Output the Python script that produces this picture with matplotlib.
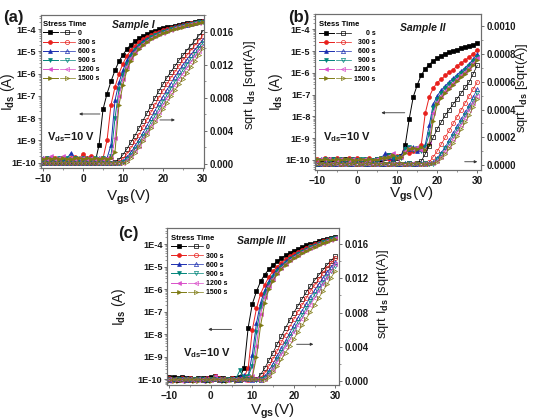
import numpy as np
import matplotlib

matplotlib.use("Agg")
import matplotlib.pyplot as plt
from matplotlib.lines import Line2D
from matplotlib.legend_handler import HandlerTuple
from matplotlib.ticker import FixedLocator, FuncFormatter, MultipleLocator, LogLocator, NullFormatter

plt.rcParams["font.family"] = ["Liberation Sans", "DejaVu Sans"]
plt.rcParams["font.weight"] = "bold"
plt.rcParams["mathtext.fontset"] = "custom"
plt.rcParams["mathtext.bf"] = "Liberation Sans:bold"
plt.rcParams["mathtext.rm"] = "Liberation Sans:bold"
plt.rcParams["mathtext.default"] = "bf"

# gate sweep, 1 V steps
VGS = np.arange(-10, 31)

COLORS = ["#000000", "#e8201c", "#1c2fb0", "#00857a", "#d94fc9", "#7d7a12"]
MARKERS = ["s", "o", "^", "v", "<", ">"]
LABELS_AC = ["0", "300 s", "600 s", "900 s", "1200 s", "1500 s"]
# panel (b) labels are right-aligned: two spaces take the width of one digit
LABELS_B = ["      0 s", "  300 s", "  600 s", "  900 s", "1200 s", "1500 s"]

# ---- Sample I : log10(Ids / A) ----
LOG_A_0 = [-10.0, -10.02, -9.96, -10.0, -10.03, -9.98, -10.0, -9.97, -10.02, -10.0, -9.96, -10.0, -10.02, -10.0,
           -9.2, -7.6, -6.9, -6.35, -5.85, -5.45, -5.15, -4.9, -4.7, -4.55, -4.42, -4.32, -4.23, -4.15, -4.08,
           -4.02, -3.97, -3.93, -3.89, -3.85, -3.81, -3.78, -3.75, -3.72, -3.69, -3.66, -3.63]
LOG_A_300 = [-9.82, -9.8, -9.85, -9.78, -9.84, -9.8, -9.86, -9.8, -9.75, -9.82, -9.6, -9.8, -9.7, -9.84, -9.82, -9.8,
             -9.0, -7.4, -6.6, -6.0, -5.55, -5.2, -4.95, -4.75, -4.6, -4.47, -4.36, -4.27, -4.19, -4.12, -4.06,
             -4.0, -3.95, -3.9, -3.86, -3.82, -3.78, -3.75, -3.71, -3.68, -3.65]
LOG_A_600 = [-9.8, -9.84, -9.78, -9.82, -9.8, -9.85, -9.8, -9.55, -9.82, -9.8, -9.84, -9.8, -9.78, -9.82, -9.8, -9.84, -9.8,
             -9.2, -7.2, -6.4, -5.85, -5.4, -5.1, -4.88, -4.7, -4.56, -4.44, -4.34, -4.25, -4.17, -4.1, -4.04,
             -3.98, -3.93, -3.88, -3.84, -3.8, -3.76, -3.72, -3.69, -3.66]
LOG_A_900 = [-9.85, -9.8, -9.82, -9.86, -9.8, -9.84, -9.8, -9.82, -9.78, -9.84, -9.8, -9.82, -9.85, -9.8, -9.83, -9.8, -9.84, -9.7,
             -8.0, -6.7, -6.05, -5.55, -5.2, -4.95, -4.76, -4.61, -4.49, -4.38, -4.29, -4.21, -4.14, -4.07, -4.01,
             -3.96, -3.91, -3.86, -3.82, -3.78, -3.74, -3.7, -3.67]
LOG_A_1200 = [-9.8, -9.84, -9.7, -9.82, -9.8, -9.72, -9.84, -9.8, -9.82, -9.78, -9.8, -9.84, -9.8, -9.82, -9.8, -9.84, -9.8, -9.8,
              -8.9, -7.0, -6.25, -5.7, -5.3, -5.03, -4.82, -4.66, -4.53, -4.42, -4.32, -4.24, -4.16, -4.09, -4.03,
              -3.97, -3.92, -3.87, -3.83, -3.79, -3.75, -3.71, -3.68]
LOG_A_1500 = [-9.84, -9.8, -9.82, -9.8, -9.85, -9.8, -9.82, -9.84, -9.8, -9.78, -9.82, -9.8, -9.84, -9.8, -9.82, -9.8, -9.84, -9.8, -9.5,
              -7.4, -6.5, -5.85, -5.42, -5.12, -4.9, -4.72, -4.58, -4.46, -4.36, -4.27, -4.19, -4.12, -4.05, -3.99,
              -3.94, -3.89, -3.84, -3.8, -3.76, -3.72, -3.69]

# ---- Sample I : sqrt(Ids), units of 1e-4 A^0.5 ----
SQRT_A_0 = [1, 1.2, 0.8, 1, 1.1, 0.9, 1, 1.2, 1, 0.8, 1, 1.1, 1, 0.9, 1, 1.2, 1, 1,
            2, 5, 11, 18, 26, 34, 43, 52, 61, 70, 79, 88, 96, 104, 111, 118, 125, 131, 137, 143, 149, 155, 160]
SQRT_A_300 = [1.1, 0.9, 1, 1.2, 1, 0.8, 1, 1.1, 0.9, 1, 1.2, 1, 0.9, 1, 1.1, 1, 0.8, 1, 1.1,
              2, 6, 12, 19, 27, 35, 44, 53, 62, 71, 80, 88, 96, 104, 111, 118, 125, 131, 137, 143, 149, 155]
SQRT_A_600 = [0.9, 1, 1.1, 1, 0.8, 1, 1.2, 1, 0.9, 1, 1.1, 1, 0.9, 1, 1.2, 1, 0.9, 1, 1.1, 1.2,
              3, 8, 14, 21, 29, 37, 46, 55, 64, 73, 81, 89, 97, 105, 112, 119, 126, 132, 138, 144, 150]
SQRT_A_900 = [1, 0.9, 1.1, 1, 1.2, 0.9, 1, 1, 1.1, 0.8, 1, 1.1, 1, 0.9, 1, 1.1, 1, 0.9, 1, 1.1,
              2, 6, 11, 18, 25, 33, 41, 50, 58, 67, 75, 83, 91, 99, 106, 113, 120, 127, 133, 140, 146]
SQRT_A_1200 = [1.1, 1, 0.9, 1, 1.2, 1, 0.9, 1.1, 1, 1, 0.8, 1, 1.1, 1, 0.9, 1, 1.2, 1, 0.9, 1, 1.1,
               4, 9, 15, 22, 30, 38, 46, 54, 63, 71, 79, 87, 95, 102, 109, 116, 123, 130, 137, 143]
SQRT_A_1500 = [0.9, 1.1, 1, 0.8, 1, 1.1, 1, 1.2, 0.9, 1, 1, 1.1, 0.9, 1, 1.2, 1, 0.9, 1.1, 1, 1, 1.1,
               2, 7, 13, 20, 27, 35, 43, 50, 58, 66, 74, 82, 89, 96, 103, 110, 117, 124, 132, 140]

# ---- Sample II : log10(Ids / A) ----
LOG_B_0 = [-10.0, -10.05, -9.98, -10.02, -9.95, -10.0, -10.03, -9.97, -10.0, -9.95, -10.02, -10.0, -9.98, -10.0,
           -10.03, -9.96, -10.0, -9.9, -9.75, -9.95, -9.9, -9.8,
           -9.3, -8.1, -7.1, -6.55, -6.1, -5.82, -5.62, -5.45, -5.33, -5.22, -5.13, -5.05, -4.98, -4.93, -4.88,
           -4.83, -4.77, -4.71, -4.65]
LOG_B_300 = [-9.95, -10.0, -9.9, -9.95, -10.0, -9.92, -9.95, -10.0, -9.9, -9.95, -9.92, -10.0, -9.95, -9.9, -10.0,
             -9.95, -9.9, -9.85, -9.95, -9.9, -9.8, -9.85, -9.5, -9.7, -9.6, -9.55,
             -9.3, -7.85, -7.1, -6.7, -6.45, -6.3, -6.12, -5.98, -5.85, -5.68, -5.55, -5.42, -5.28, -5.12, -4.95]
LOG_B_600 = [-10.0, -9.95, -10.02, -9.97, -10.0, -9.95, -10.03, -10.0, -9.96, -10.0, -9.98, -9.95, -10.0, -9.97,
             -10.02, -9.95, -9.9, -9.7, -9.85, -9.9, -9.85, -9.8, -9.45, -9.5, -9.4, -9.6, -9.5,
             -9.3, -8.4, -7.45, -7.05, -6.8, -6.6, -6.42, -6.25, -6.08, -5.92, -5.76, -5.58, -5.38, -5.15]
LOG_B_900 = [-9.98, -10.0, -9.95, -10.02, -9.97, -10.0, -9.95, -9.98, -10.02, -9.95, -10.0, -9.97, -9.95, -10.0,
             -9.98, -9.95, -9.92, -9.9, -9.75, -9.9, -9.85, -9.9, -9.5, -9.4, -9.55, -9.45, -9.6,
             -9.4, -8.8, -7.6, -7.2, -6.92, -6.7, -6.52, -6.35, -6.18, -6.02, -5.85, -5.67, -5.47, -5.25]
LOG_B_1200 = [-10.0, -9.97, -10.02, -9.95, -10.0, -9.98, -9.95, -10.02, -10.0, -9.96, -9.98, -10.0, -9.95, -9.98,
              -10.0, -9.95, -9.9, -9.92, -9.8, -9.7, -9.9, -9.85, -9.6, -9.45, -9.5, -9.4, -9.55, -9.5,
              -9.2, -7.85, -7.35, -7.05, -6.82, -6.63, -6.45, -6.28, -6.11, -5.94, -5.76, -5.56, -5.33]
LOG_B_1500 = [-9.97, -10.0, -9.95, -10.0, -10.02, -9.96, -10.0, -9.97, -9.95, -10.0, -10.02, -9.97, -10.0, -9.95,
              -9.98, -10.0, -9.92, -9.9, -9.85, -9.75, -9.9, -9.85, -9.7, -9.5, -9.45, -9.5, -9.4, -9.55,
              -9.3, -8.2, -7.45, -7.15, -6.92, -6.72, -6.54, -6.37, -6.2, -6.03, -5.85, -5.65, -5.42]

# ---- Sample II : sqrt(Ids), units of 1e-5 A^0.5 ----
SQRT_B_0 = [1, 1.5, 0.5, 1, 1.2, 0.8, 1, 1.5, 1, 0.5, 1, 1.2, 1, 0.8, 1, 1.5, 1, 0.5, 1, 1.2, 1, 0.8, 1, 1.5, 1, 1.5,
            3, 8, 14, 20, 26, 31, 36, 40, 44, 48, 52, 56, 60, 66, 72]
SQRT_B_300 = [1.2, 0.8, 1, 1.5, 1, 0.5, 1, 1.2, 1, 0.8, 1, 1.5, 1, 0.5, 1, 1.2, 1, 0.8, 1, 1.5, 1, 0.5, 1, 1.2,
              1, 0.8, 1, 1.5,
              2, 6, 10, 15, 20, 25, 30, 35, 40, 45, 50, 55, 60]
SQRT_B_600 = [0.8, 1, 1.2, 1, 0.5, 1, 1.5, 1, 0.8, 1, 1.2, 1, 0.5, 1, 1.5, 1, 0.8, 1, 1.2, 1, 0.5, 1, 1.5, 1, 0.8,
              1, 1.2, 1, 1.5,
              2, 5, 9, 13, 18, 23, 28, 33, 38, 43, 49, 55]
SQRT_B_900 = [1, 0.5, 1, 1.2, 1, 0.8, 1, 1.5, 1, 0.5, 1, 1.2, 1, 0.8, 1, 1.5, 1, 0.5, 1, 1.2, 1, 0.8, 1, 1.5, 1,
              0.5, 1, 1.2, 1,
              1, 4, 8, 12, 16, 21, 26, 31, 36, 41, 46, 52]
SQRT_B_1200 = [1.5, 1, 0.8, 1, 1.2, 1, 0.5, 1, 1.5, 1, 0.8, 1, 1.2, 1, 0.5, 1, 1.5, 1, 0.8, 1, 1.2, 1, 0.5, 1, 1.5,
               1, 0.8, 1, 1.2, 1.5,
               3, 6, 10, 14, 19, 24, 29, 34, 40, 45, 50]
SQRT_B_1500 = [1, 1.2, 1, 0.5, 1, 1.5, 1, 0.8, 1, 1.2, 1, 0.5, 1, 1.5, 1, 0.8, 1, 1.2, 1, 0.5, 1, 1.5, 1, 0.8, 1,
               1.2, 1, 0.5, 1, 1.2,
               2, 5, 8, 12, 16, 21, 26, 31, 36, 42, 48]

# ---- Sample III : log10(Ids / A) ----
LOG_C_0 = [-9.9, -9.88, -9.92, -9.9, -9.95, -9.92, -9.97, -9.93, -9.95, -9.92, -9.9, -9.85, -9.93, -9.95, -9.98,
           -9.95, -9.93, -9.9,
           -9.5, -7.7, -6.65, -6.1, -5.65, -5.35, -5.12, -4.92, -4.77, -4.63, -4.5, -4.4, -4.3, -4.21, -4.13,
           -4.05, -3.99, -3.93, -3.87, -3.82, -3.77, -3.72, -3.68]
LOG_C_300 = [-9.95, -9.98, -10.0, -9.96, -10.02, -9.95, -9.98, -10.0, -9.97, -9.95, -9.98, -9.85, -9.95, -10.0,
             -9.97, -9.95, -9.98, -10.0, -9.9,
             -9.5, -7.8, -6.85, -6.2, -5.8, -5.45, -5.2, -5.0, -4.83, -4.68, -4.55, -4.44, -4.34, -4.25, -4.16,
             -4.08, -4.01, -3.94, -3.88, -3.82, -3.77, -3.72]
LOG_C_600 = [-10.0, -9.97, -10.02, -9.98, -9.95, -10.0, -10.03, -9.97, -10.0, -9.95, -10.0, -9.88, -9.98, -10.02,
             -9.97, -10.0, -9.95, -9.9, -9.8, -9.85,
             -8.9, -7.5, -6.6, -6.05, -5.65, -5.35, -5.12, -4.93, -4.77, -4.63, -4.51, -4.4, -4.3, -4.21, -4.12,
             -4.04, -3.97, -3.9, -3.84, -3.78, -3.73]
LOG_C_900 = [-10.02, -10.0, -9.97, -10.03, -10.0, -9.98, -10.02, -10.0, -9.97, -10.03, -10.0, -9.9, -10.0, -9.97,
             -10.02, -10.0, -9.98, -9.6, -9.9, -9.85,
             -9.4, -7.9, -6.8, -6.2, -5.78, -5.46, -5.2, -5.0, -4.83, -4.68, -4.56, -4.44, -4.34, -4.24, -4.15,
             -4.07, -3.99, -3.92, -3.85, -3.79, -3.74]
LOG_C_1200 = [-10.05, -10.02, -10.0, -10.05, -10.03, -10.0, -10.04, -10.02, -10.05, -10.0, -10.03, -9.85, -10.0,
              -10.04, -10.02, -10.0, -10.03, -9.98, -9.95, -9.9, -9.85,
              -8.5, -7.1, -6.35, -5.88, -5.53, -5.26, -5.05, -4.87, -4.72, -4.59, -4.47, -4.37, -4.27, -4.18,
              -4.09, -4.01, -3.94, -3.87, -3.81, -3.75]
LOG_C_1500 = [-10.08, -10.05, -10.07, -10.03, -10.06, -10.04, -10.08, -10.05, -10.03, -10.06, -10.05, -9.95,
              -10.04, -10.07, -10.05, -10.03, -10.05, -10.0, -9.98, -9.92, -9.9,
              -9.0, -7.6, -6.6, -6.0, -5.62, -5.33, -5.1, -4.92, -4.76, -4.63, -4.51, -4.4, -4.3, -4.2, -4.11,
              -4.03, -3.96, -3.89, -3.83, -3.77]

# ---- Sample III : sqrt(Ids), units of 1e-4 A^0.5 ----
SQRT_C_0 = [1.5, 1.7, 1.3, 1.5, 1.6, 1.4, 1.5, 1.7, 1.5, 1.3, 1.5, 1.6, 1.5, 1.4, 1.5, 1.7, 1.5, 1.3, 1.5, 1.6, 1.5,
            2, 7, 15, 24, 33, 43, 52, 62, 71, 80, 88, 96, 104, 111, 118, 124, 130, 136, 141, 146]
SQRT_C_300 = [1.6, 1.4, 1.5, 1.7, 1.5, 1.3, 1.5, 1.6, 1.4, 1.5, 1.7, 1.5, 1.4, 1.5, 1.6, 1.5, 1.3, 1.5, 1.6, 1.4,
              1.5, 1.6,
              3, 9, 17, 26, 35, 45, 54, 63, 72, 81, 89, 97, 105, 112, 119, 126, 132, 138, 144]
SQRT_C_600 = [1.4, 1.5, 1.6, 1.5, 1.3, 1.5, 1.7, 1.5, 1.4, 1.5, 1.6, 1.5, 1.4, 1.5, 1.7, 1.5, 1.4, 1.5, 1.6, 1.5,
              1.4, 1.5,
              1, 5, 12, 20, 29, 38, 47, 56, 65, 74, 82, 90, 98, 106, 113, 120, 127, 133, 139]
SQRT_C_900 = [1.5, 1.4, 1.6, 1.5, 1.7, 1.4, 1.5, 1.5, 1.6, 1.3, 1.5, 1.6, 1.5, 1.4, 1.5, 1.6, 1.5, 1.4, 1.5, 1.6,
              1.5, 1.4, 1.5,
              3, 9, 16, 25, 34, 43, 52, 60, 69, 77, 85, 93, 101, 108, 115, 122, 129, 135]
SQRT_C_1200 = [1.6, 1.5, 1.4, 1.5, 1.7, 1.5, 1.4, 1.6, 1.5, 1.5, 1.3, 1.5, 1.6, 1.5, 1.4, 1.5, 1.7, 1.5, 1.4, 1.5,
               1.6, 1.5, 1.4,
               2, 7, 14, 22, 31, 40, 48, 57, 65, 73, 81, 89, 97, 105, 113, 121, 129, 137]
SQRT_C_1500 = [1.4, 1.6, 1.5, 1.3, 1.5, 1.6, 1.5, 1.7, 1.4, 1.5, 1.5, 1.6, 1.4, 1.5, 1.7, 1.5, 1.4, 1.6, 1.5, 1.5,
               1.6, 1.5, 1.4,
               1, 4, 10, 17, 25, 33, 41, 49, 57, 65, 73, 81, 89, 97, 105, 113, 121, 129]

TXT = "#1a1a1a"
SPINE = "#6e6e6e"
TICK_FS = 6.9


def draw_panel(fig, rect, logs, sqrts, sq_unit, labels, legend_title, legend_xy, xlim, ylim_log, ylim_sq,
               sq_step, sq_fmt, sample, sample_xy, vds_xy, larrow, rarrow,
               ylab_x, ylab2_xy, xlab_xy):
    ax = fig.add_axes(rect)
    ax2 = ax.twinx()
    for lg, sq, c, m in zip(logs, sqrts, COLORS, MARKERS):
        ax.plot(VGS, 10.0 ** np.array(lg), color=c, marker=m, ms=2.8, lw=0.7,
                mec=c, mfc=c, mew=0.5)
        ax2.plot(VGS, np.array(sq) * sq_unit, color=c, marker=m, ms=3.0, lw=0.5,
                 mec=c, mfc="none", mew=0.5)

    ax.set_yscale("log")
    ax.set_xlim(*xlim)
    ax.set_ylim(*ylim_log)
    ax2.set_ylim(*ylim_sq)

    ax.yaxis.set_major_locator(FixedLocator([10.0 ** k for k in range(-10, -3)]))
    ax.yaxis.set_major_formatter(FuncFormatter(lambda v, p: f"1E{int(round(np.log10(v)))}"))
    ax.yaxis.set_minor_locator(LogLocator(base=10, subs=np.arange(2, 10), numticks=20))
    ax.yaxis.set_minor_formatter(NullFormatter())
    ax.xaxis.set_major_locator(FixedLocator([-10, 0, 10, 20, 30]))
    ax.xaxis.set_minor_locator(MultipleLocator(5))
    ax2.yaxis.set_major_locator(MultipleLocator(sq_step))
    ax2.yaxis.set_minor_locator(MultipleLocator(sq_step / 2))
    ax2.yaxis.set_major_formatter(FuncFormatter(lambda v, p: sq_fmt.format(abs(v) if abs(v) < 1e-12 else v)))

    for a in (ax, ax2):
        a.tick_params(which="major", direction="out", length=2.5, width=0.7, color=SPINE,
                      labelsize=TICK_FS, labelcolor=TXT, pad=1.5)
        a.tick_params(which="minor", direction="out", length=1.2, width=0.5, color=SPINE)
        for s in a.spines.values():
            s.set_color(SPINE)
            s.set_linewidth(0.8)
    ax.tick_params(axis="y", labelsize=6.6, pad=1.0)
    ax.tick_params(axis="x", pad=2, labelsize=7.3)

    ax.set_ylabel("I$_{ds}$ (A)", fontsize=9.8, color=TXT)
    ax.yaxis.set_label_coords(ylab_x, 0.5)
    ax2.set_ylabel("sqrt I$_{ds}$ [sqrt(A)]", fontsize=9.3, color=TXT)
    ax2.yaxis.set_label_coords(*ylab2_xy)
    ax.set_xlabel("V$_{gs}$(V)", fontsize=11, color=TXT)
    ax.xaxis.set_label_coords(*xlab_xy)

    ax.text(sample_xy[0], sample_xy[1], sample, transform=ax.transAxes, fontsize=7.5,
            style="italic", color=TXT, ha="left", va="center")
    ax.text(vds_xy[0], vds_xy[1], "V$_{ds}$=10 V", transform=ax.transAxes, fontsize=8,
            color=TXT, ha="left", va="center")
    for (x0, x1, y) in (larrow, rarrow):
        ax.annotate("", xy=(x1, y), xytext=(x0, y), xycoords="axes fraction",
                    arrowprops=dict(arrowstyle="-|>", color="#333333", lw=0.6,
                                    mutation_scale=4, shrinkA=0, shrinkB=0))

    handles = []
    for c, m in zip(COLORS, MARKERS):
        full = Line2D([], [], color=c, marker=m, ms=2.8, lw=0.7, mfc=c, mec=c, mew=0.5)
        hollow = Line2D([], [], color=c, marker=m, ms=3.0, lw=0.5, mfc="none", mec=c, mew=0.5)
        handles.append((full, hollow))
    leg = ax2.legend(handles, labels, handler_map={tuple: HandlerTuple(ndivide=None, pad=0.3)},
                     title=legend_title, loc="upper left", bbox_to_anchor=legend_xy,
                     frameon=False, fontsize=5, title_fontsize=5.5, numpoints=1,
                     handlelength=4.6, handletextpad=0.45, labelspacing=0.3,
                     borderpad=0.0, borderaxespad=0.0, alignment="left")
    leg.get_title().set_fontweight("bold")
    return ax, ax2, leg


fig = plt.figure(figsize=(5.36, 4.2), dpi=100)

draw_panel(
    fig, [0.0759, 0.60, 0.3047, 0.3643],
    [LOG_A_0, LOG_A_300, LOG_A_600, LOG_A_900, LOG_A_1200, LOG_A_1500],
    [SQRT_A_0, SQRT_A_300, SQRT_A_600, SQRT_A_900, SQRT_A_1200, SQRT_A_1500], 1e-4,
    LABELS_AC, "Stress Time", (0.014, 0.962),
    (-10.65, 30.33), (10 ** -10.24, 10 ** -3.37), (-0.00052, 0.018),
    0.004, "{:.3f}", "Sample I", (0.437, 0.935), (0.037, 0.205),
    (0.363, 0.235, 0.353), (0.73, 0.822, 0.314),
    -0.148, (1.231, 0.54), (0.535, -0.13))

draw_panel(
    fig, [0.5882, 0.5952, 0.3097, 0.3714],
    [LOG_B_0, LOG_B_300, LOG_B_600, LOG_B_900, LOG_B_1200, LOG_B_1500],
    [SQRT_B_0, SQRT_B_300, SQRT_B_600, SQRT_B_900, SQRT_B_1200, SQRT_B_1500], 1e-5,
    LABELS_B, "Stess Time", (0.02, 0.955),
    (-10.5, 31.0), (10 ** -10.46, 10 ** -3.3), (-0.000036, 0.00109),
    0.0002, "{:.4f}", "Sample II", (0.508, 0.91), (0.046, 0.213),
    (0.539, 0.398, 0.367), (0.90, 0.976, 0.053),
    -0.18, (1.20, 0.529), (0.578, -0.096))

draw_panel(
    fig, [0.3121, 0.0833, 0.3209, 0.3731],
    [LOG_C_0, LOG_C_300, LOG_C_600, LOG_C_900, LOG_C_1200, LOG_C_1500],
    [SQRT_C_0, SQRT_C_300, SQRT_C_600, SQRT_C_900, SQRT_C_1200, SQRT_C_1500], 1e-4,
    LABELS_AC, "Stress Time", (0.022, 0.96),
    (-10.5, 30.96), (10 ** -10.25, 10 ** -3.30), (-0.0005, 0.01788),
    0.004, "{:.3f}", "Sample III", (0.403, 0.919), (0.091, 0.204),
    (0.374, 0.238, 0.355), (0.752, 0.849, 0.26),
    -0.23, (1.208, 0.58), (0.61, -0.107))

fig.text(0.006, 0.958, "(a)", fontsize=12, color=TXT, va="center")
fig.text(0.537, 0.958, "(b)", fontsize=12, color=TXT, va="center")
fig.text(0.220, 0.443, "(c)", fontsize=12, color=TXT, va="center")

fig.savefig("out.png", dpi=100)
